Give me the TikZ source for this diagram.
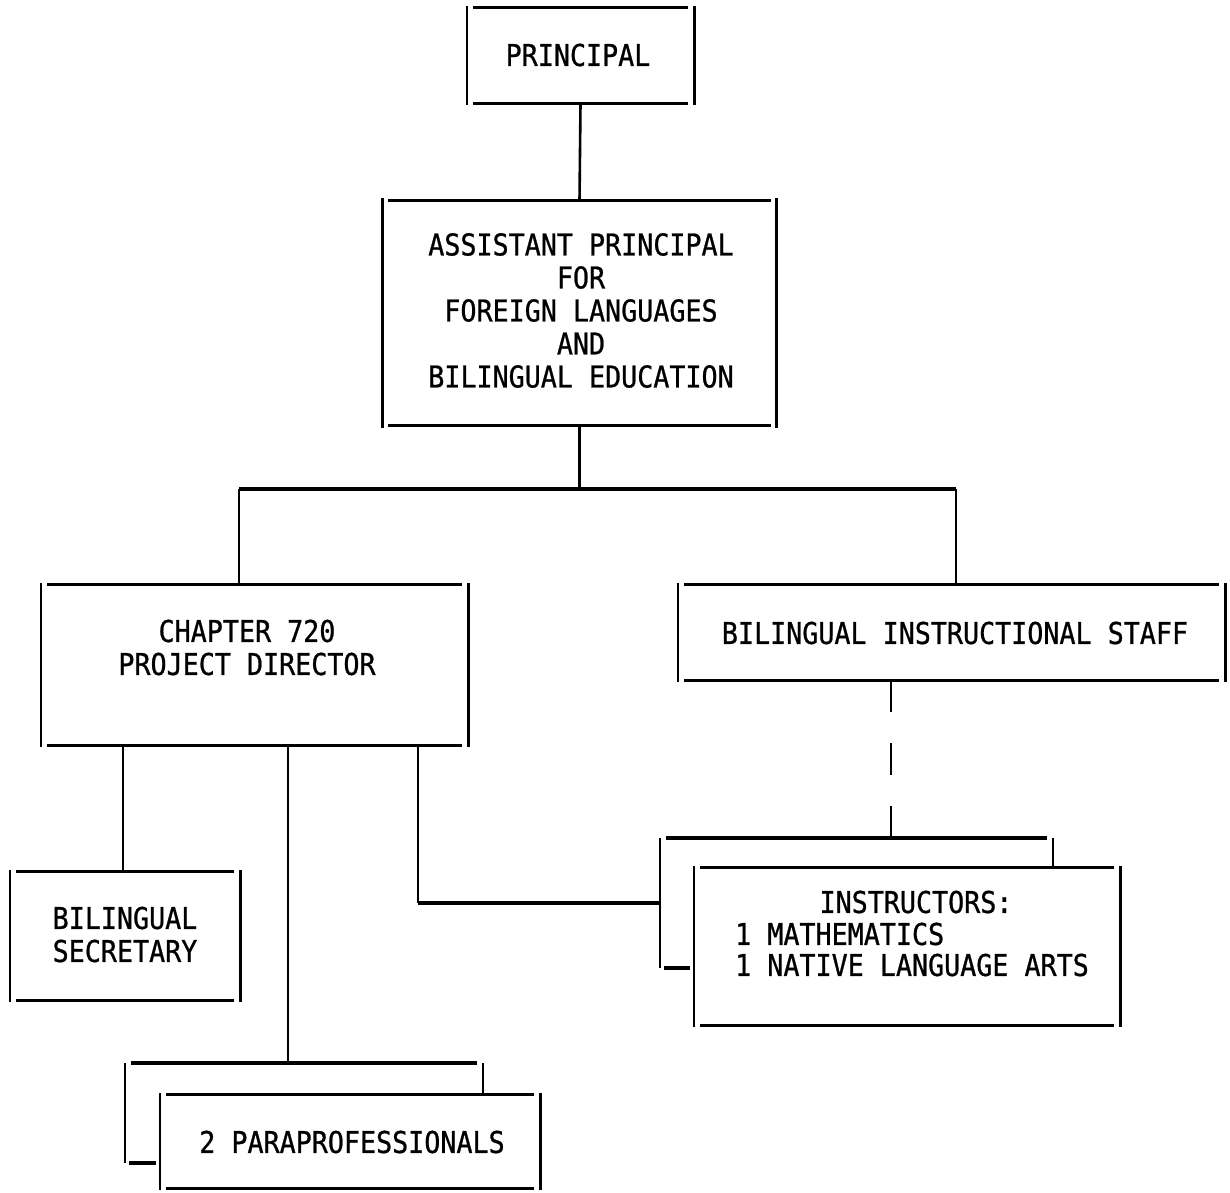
\documentclass[tikz,border=0pt]{standalone}
\usepackage{fontspec}
\newfontfamily\tw[FakeStretch=0.89,FakeBold=0.8]{DejaVu Sans Mono}
\tikzset{
  boxnode/.style={draw=none, inner sep=0pt, rectangle},
  lbl/.style={inner sep=0pt, font=\tw\fontsize{30}{33}\selectfont, text=black},
  vline/.style={line width=2.6pt, black},
  hline/.style={line width=3.2pt, black},
  conn/.style={line width=2.6pt, black},
}
\newcommand\tbx[1]{%
  \draw[vline] ([yshift=2pt]#1.north west) -- ([yshift=-2pt]#1.south west)
               ([yshift=2pt]#1.north east) -- ([yshift=-2pt]#1.south east);
  \draw[hline] ([xshift=6pt]#1.north west) -- ([xshift=-6pt]#1.north east)
               ([xshift=6pt]#1.south west) -- ([xshift=-6pt]#1.south east);}
\begin{document}
\begin{tikzpicture}[x=1pt,y=-1pt]
\useasboundingbox (0,0) rectangle (1230,1192);
% boxes
\node[boxnode, minimum width=227pt, minimum height=95pt] (pr) at (580.5,55.5) {};
\node[boxnode, minimum width=394pt, minimum height=225pt] (ap) at (579.5,313) {};
\node[boxnode, minimum width=427pt, minimum height=160pt] (ch) at (254.5,665) {};
\node[boxnode, minimum width=547pt, minimum height=95pt] (bis) at (951.5,632.5) {};
\node[boxnode, minimum width=230pt, minimum height=128pt] (sec) at (125,936) {};
\node[boxnode, minimum width=426pt, minimum height=157pt] (ins) at (907,946.5) {};
\node[boxnode, minimum width=380pt, minimum height=93pt] (para) at (350,1141.5) {};
\tbx{pr}\tbx{ap}\tbx{ch}\tbx{bis}\tbx{sec}\tbx{ins}\tbx{para}
% texts
\node[lbl] (tpr) at (578,55) {PRINCIPAL};
\node[lbl, align=center] (tap) at (581,310.5) {ASSISTANT PRINCIPAL\\FOR\\FOREIGN LANGUAGES\\AND\\BILINGUAL EDUCATION};
\node[lbl, align=center] (tch) at (247,647.5) {CHAPTER 720\\PROJECT DIRECTOR};
\node[lbl] (tbis) at (955,633) {BILINGUAL INSTRUCTIONAL STAFF};
\node[lbl, align=center] (tsec) at (125,934.5) {BILINGUAL\\SECRETARY};
\node[lbl] (tin1) at (916,902) {INSTRUCTORS:};
\node[lbl, anchor=west] (tin2) at (735,934) {1 MATHEMATICS};
\node[lbl, anchor=west] (tin3) at (735,965) {1 NATIVE LANGUAGE ARTS};
\node[lbl] (tpara) at (352,1142) {2 PARAPROFESSIONALS};
% stacked back boxes
\coordinate (ibtl) at (660,838);
\coordinate (ibtr) at (1053,838);
\coordinate (iblb) at (660,968);
\coordinate (pbtl) at (125,1063);
\coordinate (pbtr) at (483,1063);
\coordinate (pblb) at (125,1163);
\draw[hline] ([xshift=6pt]ibtl) -- ([xshift=-6pt]ibtr);
\draw[vline] (ibtl) -- (iblb);
\draw[vline] (ibtr) -- (ibtr |- ins.north);
\draw[hline] ([xshift=4pt]iblb) -- ([xshift=-4pt]iblb -| ins.west);
\draw[hline] ([xshift=6pt]pbtl) -- ([xshift=-6pt]pbtr);
\draw[vline] (pbtl) -- (pblb);
\draw[vline] (pbtr) -- (pbtr |- para.north);
\draw[hline] ([xshift=4pt]pblb) -- ([xshift=-4pt]pblb -| para.west);
% connectors
\coordinate (hl) at (239,489);
\coordinate (hr) at (956,489);
\coordinate (dsec) at (123,745);
\coordinate (dpara) at (288,745);
\coordinate (dins) at (418,745);
\coordinate (dbis) at (891,680);
\draw[conn] (pr.south) -- (ap.north);
\draw[conn] (ap.south) -- (ap.south |- hl);
\draw[hline] (hl) -- (hr);
\draw[conn] (hl) -- (hl |- ch.north);
\draw[conn] (hr) -- (hr |- bis.north);
\draw[conn] (dsec) -- (dsec |- sec.north);
\draw[conn] (dpara) -- (dpara |- pbtl);
\draw[conn] (dins) -- (418,903) coordinate (kins);
\draw[hline] (kins) -- (kins -| ibtl);
\draw[conn, dash pattern=on 32pt off 31pt] (dbis) -- (dbis |- ibtl);
\end{tikzpicture}
\end{document}
